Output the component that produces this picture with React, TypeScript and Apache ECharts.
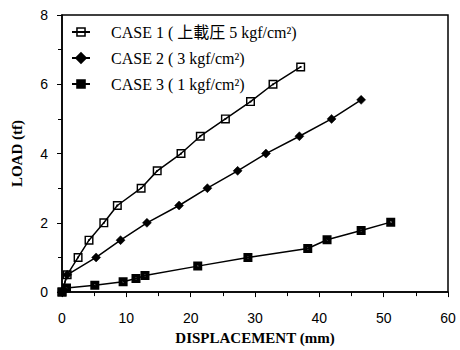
import React, { useEffect, useRef } from "react";
import * as echarts from "echarts";

const legendNames = [
  "CASE 1 ( 上載圧 5 kgf/cm²)",
  "CASE 2 ( 3 kgf/cm²)",
  "CASE 3 ( 1 kgf/cm²)",
];
const case1X = [0, 0.8, 2.5, 4.2, 6.5, 8.6, 12.3, 14.8, 18.5, 21.5, 25.4, 29.3, 32.8, 37.1];
const case1Y = [0, 0.5, 1.0, 1.5, 2.0, 2.5, 3.0, 3.5, 4.0, 4.5, 5.0, 5.5, 6.0, 6.5];
const case2X = [0, 0.8, 5.3, 9.1, 13.2, 18.2, 22.6, 27.3, 31.7, 36.9, 41.9, 46.5];
const case2Y = [0, 0.5, 1.0, 1.5, 2.0, 2.5, 3.0, 3.5, 4.0, 4.5, 5.0, 5.55];
const case3X = [0, 0.7, 5.1, 9.5, 11.5, 12.9, 21.1, 28.9, 38.2, 41.2, 46.5, 51.1];
const case3Y = [0, 0.12, 0.2, 0.3, 0.39, 0.48, 0.75, 1.0, 1.26, 1.51, 1.78, 2.02];
const xTicks = [0, 10, 20, 30, 40, 50, 60];
const yTicks = [0, 2, 4, 6, 8];

const serif = "'Liberation Serif', 'Times New Roman', 'Noto Sans CJK JP', serif";
const sans = "'Liberation Sans', Arial, sans-serif";

const openSquareDot = "path://M0,0H10V10H0Z M1.6,1.6V8.4H8.4V1.6Z M4,4H6V6H4Z";
const filledSquareDot = "path://M0,0H10V10H0Z M4.2,4.2V5.8H5.8V4.2Z";

function zip(xs: number[], ys: number[]) {
  return xs.map((x, i) => [x, ys[i]]);
}

export default function App() {
  const ref = useRef<HTMLDivElement>(null);
  useEffect(() => {
    if (!ref.current) return;
    const chart = echarts.init(ref.current, null, { renderer: "svg" });
    const line = { color: "#000", width: 1.5 };
    chart.setOption({
      animation: false,
      backgroundColor: "#fff",
      grid: { left: 62, right: 12, top: 15, bottom: 53, show: true, borderColor: "#000", borderWidth: 1.5, backgroundColor: "transparent" },
      legend: {
        orient: "vertical",
        left: 66,
        top: 19,
        itemWidth: 18,
        itemHeight: 12,
        itemGap: 10,
        data: legendNames,
        textStyle: { fontFamily: serif, fontSize: 16, color: "#000", padding: [0, 0, 0, 16] },
      },
      xAxis: {
        type: "value",
        min: xTicks[0],
        max: xTicks[xTicks.length - 1],
        interval: 10,
        name: "DISPLACEMENT (mm)",
        nameLocation: "middle",
        nameGap: 37,
        nameTextStyle: { fontFamily: serif, fontSize: 15, fontWeight: "bold", color: "#000" },
        axisLine: { show: true, lineStyle: { color: "#000", width: 1.5 } },
        axisTick: { show: true, length: 5, lineStyle: { color: "#000" } },
        minorTick: { show: true, splitNumber: 2, length: 4, lineStyle: { color: "#000" } },
        axisLabel: { fontFamily: sans, fontSize: 14, color: "#000", margin: 19 },
        splitLine: { show: false },
      },
      yAxis: {
        type: "value",
        min: yTicks[0],
        max: yTicks[yTicks.length - 1],
        interval: 2,
        name: "LOAD (tf)",
        nameLocation: "middle",
        nameGap: 38,
        nameTextStyle: { fontFamily: serif, fontSize: 15, fontWeight: "bold", color: "#000" },
        axisLine: { show: true, lineStyle: { color: "#000", width: 1.5 } },
        axisTick: { show: true, length: 5, lineStyle: { color: "#000" } },
        minorTick: { show: true, splitNumber: 2, length: 4, lineStyle: { color: "#000" } },
        axisLabel: { fontFamily: sans, fontSize: 14, color: "#000", margin: 14 },
        splitLine: { show: false },
      },
      series: [
        {
          name: legendNames[0],
          type: "line",
          data: zip(case1X, case1Y),
          symbol: openSquareDot,
          symbolSize: 9,
          lineStyle: line,
          itemStyle: { color: "#000" },
        },
        {
          name: legendNames[1],
          type: "line",
          data: zip(case2X, case2Y),
          symbol: "diamond",
          symbolSize: 9,
          lineStyle: line,
          itemStyle: { color: "#000", borderColor: "#000", borderWidth: 0.5 },
        },
        {
          name: legendNames[2],
          type: "line",
          data: zip(case3X, case3Y),
          symbol: filledSquareDot,
          symbolSize: 9,
          lineStyle: line,
          itemStyle: { color: "#000" },
        },
      ],
    });
    return () => chart.dispose();
  }, []);
  return <div ref={ref} style={{ width: 460, height: 350, position: "absolute", left: 0, top: 0 }} />;
}
